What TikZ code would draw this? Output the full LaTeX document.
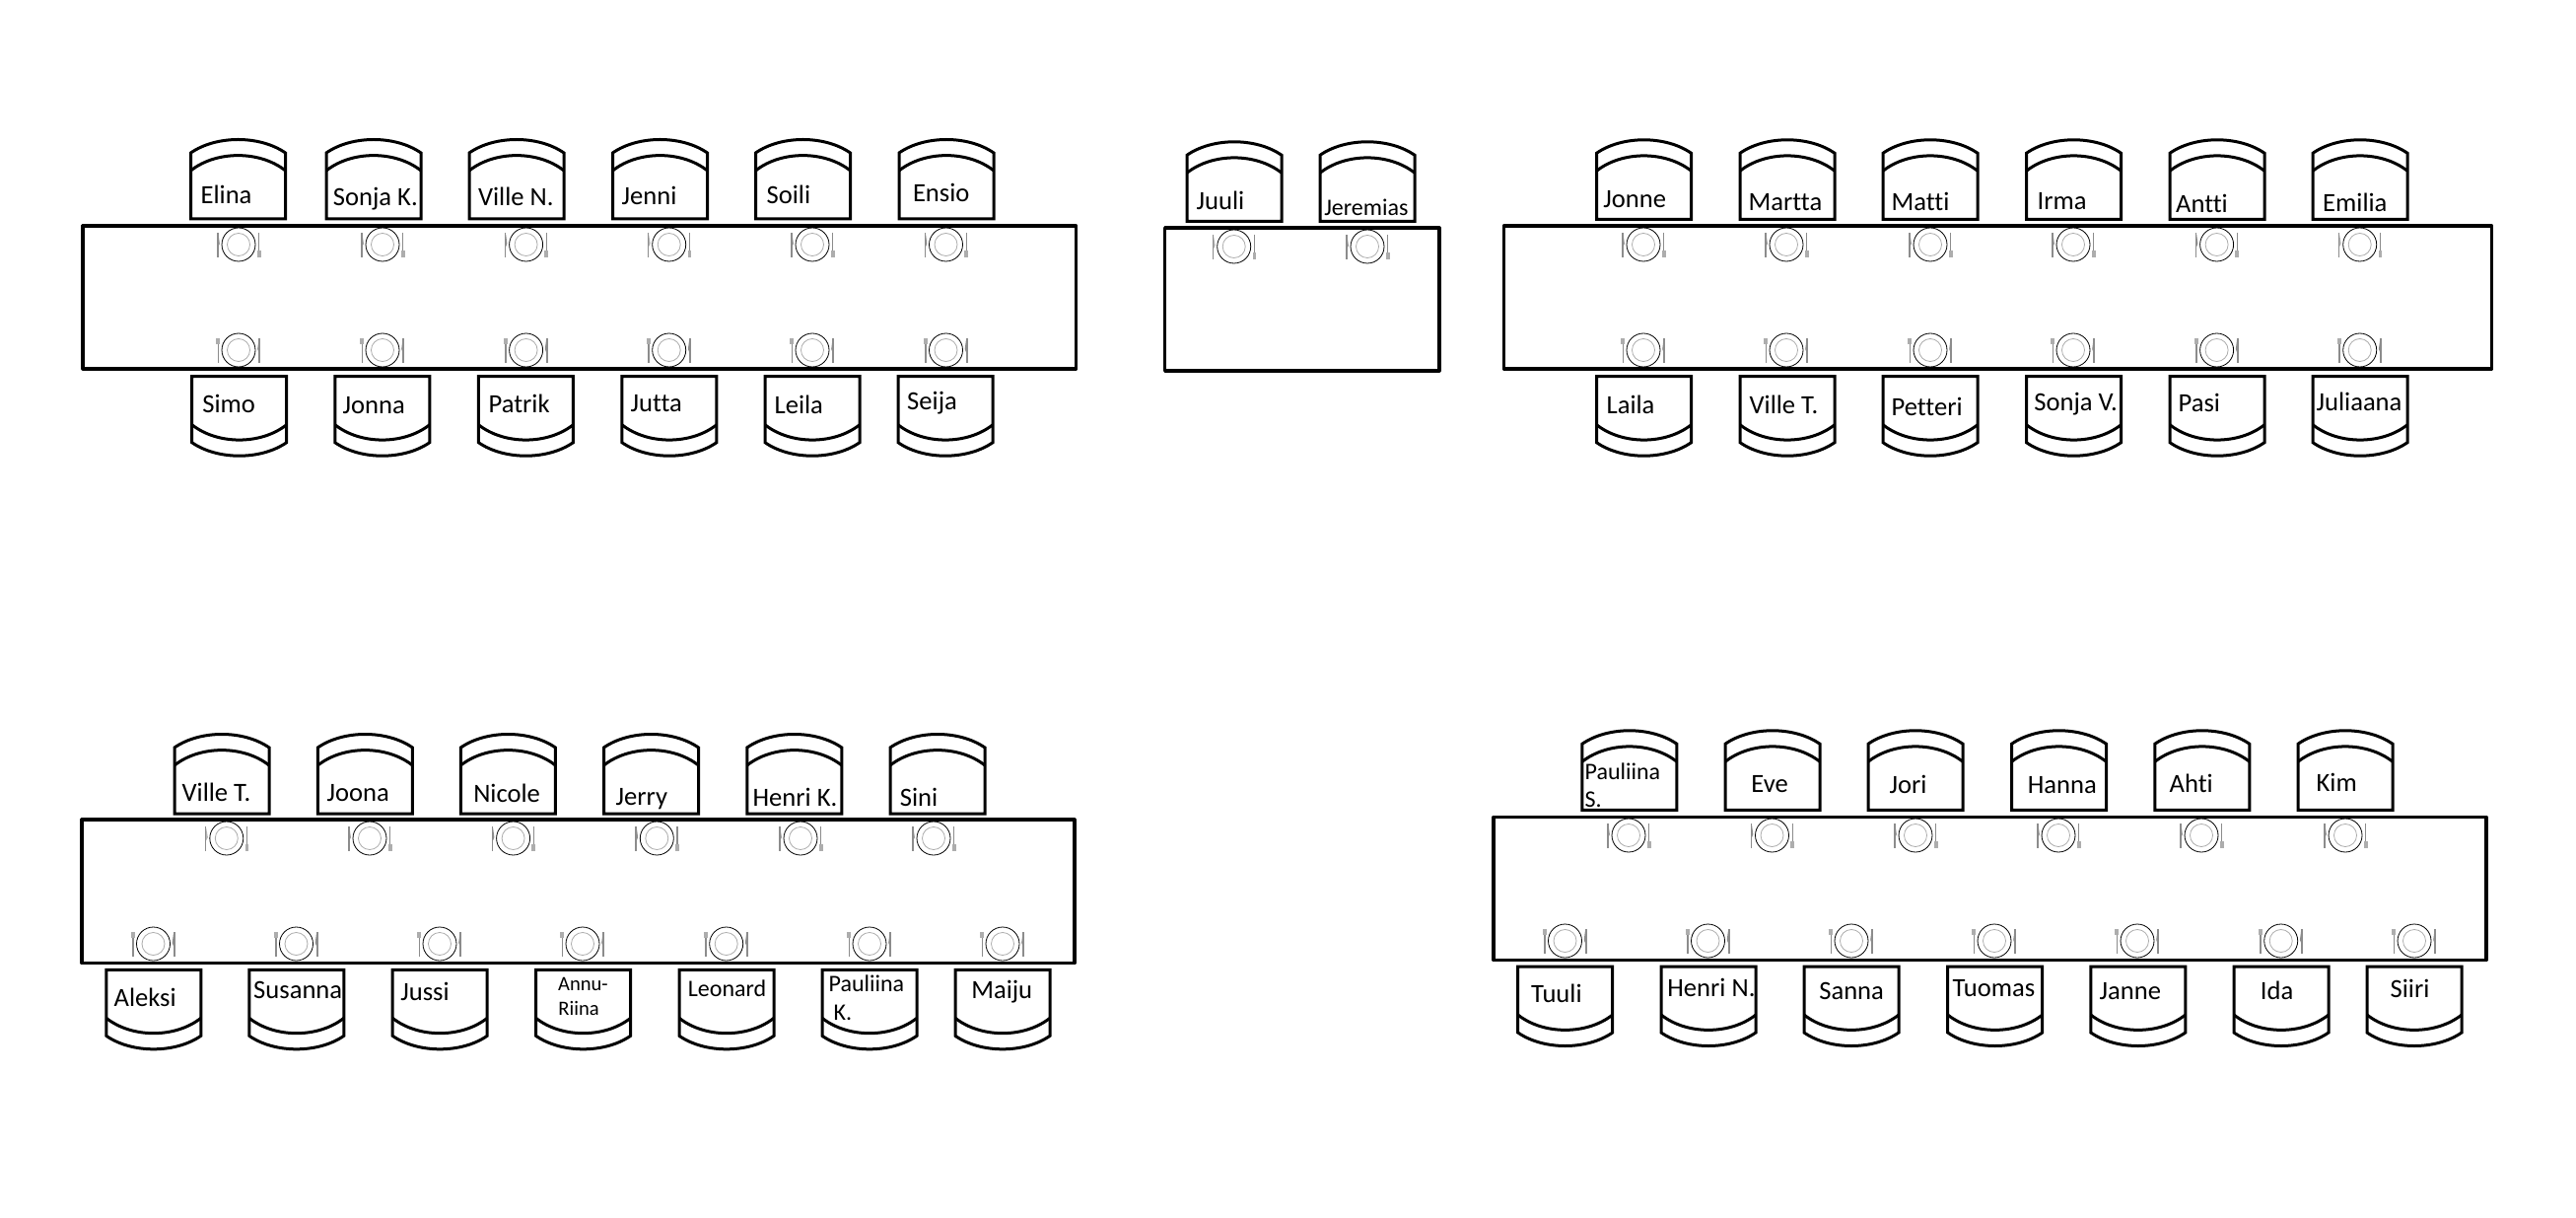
\documentclass[tikz,border=0pt]{standalone}
\usepackage{fontspec}
\setmainfont[Ligatures=NoCommon]{Carlito}
\definecolor{ware}{gray}{0.55}
\definecolor{forkhead}{gray}{0.68}
\definecolor{rimgray}{gray}{0.68}
\tikzset{
  tablebox/.style={draw=black,line width=1.6pt,line join=round,fill=none},
  chairline/.style={draw=black,line width=1.5pt,line join=miter},
  lbl/.style={anchor=base west,inner sep=0pt,outer sep=0pt,text=black,xshift=-0.2pt,yshift=-0.35pt,font=\fontsize{13.3}{14}\selectfont},
  lblm/.style={lbl,font=\fontsize{12}{14}\selectfont},
  lbls/.style={lbl,font=\fontsize{10.3}{12}\selectfont},
  pics/chair/.style={code={
    \path[chairline] (-48,-67) -- (-48,0) -- (48,0) -- (48,-67)
       .. controls (22,-85) and (-22,-85) .. (-48,-67) -- cycle;
    \path[chairline] (-48,-49) .. controls (-22,-69.5) and (22,-69.5) .. (48,-49);
  }},
  pics/platetop/.style={code={
    \draw[black,line width=0.4pt] (0,0) circle[x radius=17,y radius=17];
    \draw[rimgray,line width=0.4pt] (0,0) circle[x radius=11.5,y radius=11.5];
    \fill[ware] (-22,-12) -- (-20.4,-12) -- (-20.4,13) -- (-22,13) -- cycle;
    \fill[ware] (-20.4,-10) -- (-19.2,-1) -- (-20.4,2) -- cycle;
    \fill[ware] (20,-12) -- (21.4,-12) -- (21.4,6) -- (20,6) -- cycle;
    \fill[forkhead] (18.8,6) rectangle (22.6,13);
  }},
  pics/platebot/.style={code={
    \draw[black,line width=0.4pt] (0,0) circle[x radius=17,y radius=17];
    \draw[rimgray,line width=0.4pt] (0,0) circle[x radius=11.5,y radius=11.5];
    \fill[ware] (20.4,-12) -- (22,-12) -- (22,13) -- (20.4,13) -- cycle;
    \fill[ware] (20.4,-10) -- (19.2,-1) -- (20.4,2) -- cycle;
    \fill[ware] (-21.4,-6) -- (-20,-6) -- (-20,13) -- (-21.4,13) -- cycle;
    \fill[forkhead] (-22.6,-12) rectangle (-18.8,-6);
  }}
}
\begin{document}
\begin{tikzpicture}[x=0.5pt,y=-0.5pt]
\path[fill=white] (0,0) rectangle (2613,1235);
\useasboundingbox (0,0) rectangle (2613,1235);

% tables
\path[tablebox] (84,229) rectangle (1091.6,374);
\path[tablebox] (1181.6,231) rectangle (1460,376);
\path[tablebox] (1525.4,229) rectangle (2527.6,374);
\path[tablebox] (83,831) rectangle (1090,976.7);
\path[tablebox] (1515,828.3) rectangle (2522,973.7);

% top rows of chairs
\foreach \cx in {241.5,379,524,669.5,814.5,960} \pic at (\cx,222) {chair};
\foreach \cx in {1252,1387} \pic at (\cx,224.3) {chair};
\foreach \cx in {1667.5,1813,1958,2103.5,2249,2394} \pic at (\cx,222.3) {chair};
\foreach \cx in {225,370.4,515.4,660.5,805.8,951} \pic at (\cx,825) {chair};
\foreach \cx in {1652.9,1798,1943,2088.5,2233.8,2379} \pic at (\cx,821.3) {chair};
% bottom rows of chairs
\foreach \cx in {242.7,387.8,533.4,678.9,824,959} \pic[yscale=-1] at (\cx,381.7) {chair};
\foreach \cx in {1667.5,1813,1958,2103.5,2249,2394} \pic[yscale=-1] at (\cx,381.7) {chair};
\foreach \cx in {155.8,300.8,446.2,591.6,737,882,1017} \pic[yscale=-1] at (\cx,983.3) {chair};
\foreach \cx in {1587.7,1733,1878,2023.7,2168.8,2314,2449} \pic[yscale=-1] at (\cx,980) {chair};

% place settings
\foreach \cx in {242,388,533.6,678.7,824,959.5} {\pic at (\cx,248) {platetop}; \pic at (\cx,355) {platebot};}
\foreach \cx in {1251.7,1387} \pic at (\cx,250) {platetop};
\foreach \cx in {1667,1812,1958,2103,2248.6,2393.7} {\pic at (\cx,248) {platetop}; \pic at (\cx,355) {platebot};}
\foreach \cx in {229.8,375,520.6,666.3,812,947} \pic at (\cx,850) {platetop};
\foreach \cx in {155.5,300.5,446,591,736.7,882,1017} \pic at (\cx,957) {platebot};
\foreach \cx in {1652,1797.5,1943,2088,2233,2379} \pic at (\cx,847) {platetop};
\foreach \cx in {1587.5,1732.5,1878,2023,2168,2313.7,2449} \pic at (\cx,954) {platebot};

% names, table 1
\node[lbl] (elina) at (204,206) {Elina};
\node[lbl] (sonjak) at (338.3,208) {Sonja K.};
\node[lbl] (villen) at (485.4,207.7) {Ville N.};
\node[lbl] (jenni) at (631,207) {Jenni};
\node[lbl] (soili) at (778,206) {Soili};
\node[lbl] (ensio) at (926.4,204) {Ensio};
\node[lbl] (simo) at (205.7,418.3) {Simo};
\node[lbl] (jonna) at (348,419.3) {Jonna};
\node[lbl] (patrik) at (496,418) {Patrik};
\node[lbl] (jutta) at (640,417.3) {Jutta};
\node[lbl] (leila) at (786,418.7) {Leila};
\node[lbl] (seija) at (920.6,415) {Seija};
% table 2
\node[lbl] (juuli) at (1214,212.3) {Juuli};
\node[lblm] (jeremias) at (1343.7,217.7) {Jeremias};
% table 3
\node[lbl] (jonne) at (1626.7,210.3) {Jonne};
\node[lbl] (martta) at (1774,213.3) {Martta};
\node[lbl] (matti) at (1919,212.7) {Matti};
\node[lbl] (irma) at (2067,211.7) {Irma};
\node[lbl] (antti) at (2207.5,215) {Antti};
\node[lbl] (emilia) at (2356.6,213.7) {Emilia};
\node[lbl] (laila) at (1630,418.7) {Laila};
\node[lbl] (villet) at (1775,418.7) {Ville T.};
\node[lbl] (petteri) at (1919,421) {Petteri};
\node[lbl] (sonjav) at (2063.7,416.3) {Sonja V.};
\node[lbl] (pasi) at (2210,416.7) {Pasi};
\node[lbl] (juliaana) at (2350,415.7) {Juliaana};
% table 4
\node[lbl] (villetb) at (185,812) {Ville T.};
\node[lbl] (joona) at (332,812) {Joona};
\node[lbl] (nicole) at (480.7,813) {Nicole};
\node[lbl] (jerry) at (625,815.3) {Jerry};
\node[lbl] (henrik) at (764,816.3) {Henri K.};
\node[lbl] (sini) at (913.3,816.3) {Sini};
\node[lbl] (aleksi) at (116,1019.3) {Aleksi};
\node[lbl] (susanna) at (257.6,1012) {Susanna};
\node[lbl] (jussi) at (406.7,1013.3) {Jussi};
\node[lbls] (annu) at (566.5,1003.3) {Annu-};
\node[lbls] (riina) at (566.8,1029) {Riina};
\node[lblm] (leonard) at (698.3,1010) {Leonard};
\node[lblm] (paulk) at (841,1005) {Pauliina};
\node[lblm] (paulkk) at (846,1034) {K.};
\node[lbl] (maiju) at (985.7,1011.7) {Maiju};
% table 5
\node[lblm] (pauls) at (1608,789.3) {Pauliina};
\node[lblm] (paulss) at (1608,818) {S.};
\node[lbl] (eve) at (1776.8,802.7) {Eve};
\node[lbl] (jori) at (1917,804) {Jori};
\node[lbl] (hanna) at (2057.3,803.3) {Hanna};
\node[lbl] (ahti) at (2201,802.7) {Ahti};
\node[lbl] (kim) at (2350,801.7) {Kim};
\node[lbl] (tuuli) at (1553.6,1015.7) {Tuuli};
\node[lbl] (henrin) at (1691.8,1010) {Henri N.};
\node[lbl] (sanna) at (1845.7,1013) {Sanna};
\node[lbl] (tuomas) at (1981,1010) {Tuomas};
\node[lbl] (janne) at (2130,1013) {Janne};
\node[lbl] (ida) at (2293.3,1013) {Ida};
\node[lbl] (siiri) at (2425,1011) {Siiri};
\end{tikzpicture}
\end{document}
